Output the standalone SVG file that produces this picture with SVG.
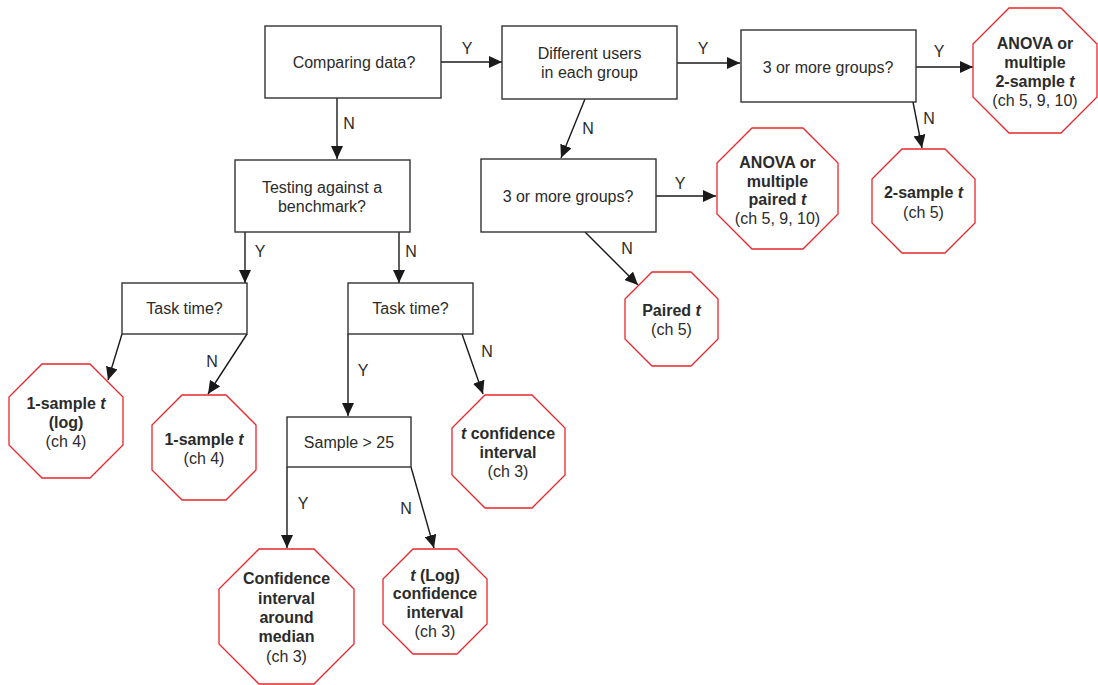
<svg xmlns="http://www.w3.org/2000/svg" width="1098" height="685" viewBox="0 0 1098 685">
<defs>
<marker id="arr" markerUnits="userSpaceOnUse" markerWidth="14" markerHeight="12" refX="13" refY="6" orient="auto">
<path d="M0,0 L13,6 L0,12 z" fill="#1a1a1a"/>
</marker>
<style>
.box{fill:#fff;stroke:#333;stroke-width:1.4}
.oct{fill:#fff;stroke:#e8262b;stroke-width:1.3}
.t{font-family:"Liberation Sans",Arial,sans-serif;font-size:16px;fill:#2b2b2b;text-anchor:middle}
.b{font-weight:bold}
.c{fill:none;stroke:#1a1a1a;stroke-width:1.4;marker-end:url(#arr)}
</style>
</defs>
<rect width="1098" height="685" fill="#fff"/>
<g id="connectors">
<path class="c" d="M441,62 H502"/>
<path class="c" d="M337,98 V159"/>
<path class="c" d="M677,63 H740"/>
<path class="c" d="M585,99 L561,158"/>
<path class="c" d="M916,67 H973"/>
<path class="c" d="M913,102 L922,148"/>
<path class="c" d="M656,196 H716"/>
<path class="c" d="M585,232 L638,285"/>
<path class="c" d="M245,232 V283"/>
<path class="c" d="M399,232 V283"/>
<path class="c" d="M122,334 L108,380"/>
<path class="c" d="M247,334 L208,394"/>
<path class="c" d="M348,334 V416"/>
<path class="c" d="M462,334 L483,394"/>
<path class="c" d="M287,467 V548"/>
<path class="c" d="M411,467 L434,548"/>
<g class="t">
<text x="467" y="54">Y</text>
<text x="349" y="129">N</text>
<text x="703" y="54">Y</text>
<text x="588" y="134">N</text>
<text x="939" y="57">Y</text>
<text x="929" y="124">N</text>
<text x="680" y="189">Y</text>
<text x="627" y="254">N</text>
<text x="260" y="257">Y</text>
<text x="411" y="257">N</text>
<text x="212" y="367">N</text>
<text x="363" y="376">Y</text>
<text x="487" y="357">N</text>
<text x="303" y="509">Y</text>
<text x="406" y="514">N</text>
</g>
</g>
<g id="comparing">
<rect class="box" x="265" y="26" width="176" height="72"/>
<text class="t" x="354" y="68">Comparing data?</text>
</g>
<g id="different-users">
<rect class="box" x="502" y="26" width="175" height="73"/>
<text class="t" x="589.5" y="59">Different users</text>
<text class="t" x="589.5" y="78">in each group</text>
</g>
<g id="groups-top">
<rect class="box" x="741" y="30" width="175" height="72"/>
<text class="t" x="828" y="73">3 or more groups?</text>
</g>
<g id="testing">
<rect class="box" x="235" y="160" width="175" height="72"/>
<text class="t" x="322" y="193">Testing against a</text>
<text class="t" x="322" y="212">benchmark?</text>
</g>
<g id="groups-mid">
<rect class="box" x="481" y="159" width="175" height="73"/>
<text class="t" x="568" y="202">3 or more groups?</text>
</g>
<g id="task-left">
<rect class="box" x="122" y="283" width="125" height="51"/>
<text class="t" x="184.5" y="314">Task time?</text>
</g>
<g id="task-right">
<rect class="box" x="348" y="283" width="125" height="51"/>
<text class="t" x="410.5" y="314">Task time?</text>
</g>
<g id="sample">
<rect class="box" x="287" y="417" width="124" height="50"/>
<text class="t" x="349" y="448">Sample &gt; 25</text>
</g>
<g id="anova-2sample">
<polygon class="oct" points="1009,8 1061,8 1097,44 1097,97 1061,133 1009,133 973,97 973,44"/>
<text class="t b" x="1035" y="49">ANOVA or</text>
<text class="t b" x="1035" y="68">multiple</text>
<text class="t b" x="1035" y="87">2-sample <tspan font-style="italic">t</tspan></text>
<text class="t" x="1035" y="106">(ch 5, 9, 10)</text>
</g>
<g id="anova-paired">
<polygon class="oct" points="752,128 803,128 838,163 838,214 803,249 752,249 717,214 717,163"/>
<text class="t b" x="777.5" y="168">ANOVA or</text>
<text class="t b" x="777.5" y="187">multiple</text>
<text class="t b" x="777.5" y="205">paired <tspan font-style="italic">t</tspan></text>
<text class="t" x="777.5" y="224">(ch 5, 9, 10)</text>
</g>
<g id="two-sample">
<polygon class="oct" points="902,149 945,149 975,179 975,223 945,253 902,253 872,223 872,179"/>
<text class="t b" x="923.5" y="198">2-sample <tspan font-style="italic">t</tspan></text>
<text class="t" x="923.5" y="218">(ch 5)</text>
</g>
<g id="paired-t">
<polygon class="oct" points="652,272 691,272 718,299 718,339 691,366 652,366 625,339 625,299"/>
<text class="t b" x="671.5" y="316">Paired <tspan font-style="italic">t</tspan></text>
<text class="t" x="671.5" y="335">(ch 5)</text>
</g>
<g id="one-sample-log">
<polygon class="oct" points="42,364 90,364 123,397 123,445 90,478 42,478 9,445 9,397"/>
<text class="t b" x="66" y="409">1-sample <tspan font-style="italic">t</tspan></text>
<text class="t b" x="66" y="428">(log)</text>
<text class="t" x="66" y="447">(ch 4)</text>
</g>
<g id="one-sample">
<polygon class="oct" points="182,395 226,395 256,425 256,470 226,500 182,500 152,470 152,425"/>
<text class="t b" x="204" y="445">1-sample <tspan font-style="italic">t</tspan></text>
<text class="t" x="204" y="464">(ch 4)</text>
</g>
<g id="t-confidence">
<polygon class="oct" points="485,395 532,395 565,428 565,475 532,508 485,508 452,475 452,428"/>
<text class="t b" x="508" y="439"><tspan font-style="italic">t</tspan> confidence</text>
<text class="t b" x="508" y="458">interval</text>
<text class="t" x="508" y="477">(ch 3)</text>
</g>
<g id="ci-median">
<polygon class="oct" points="259,549 314,549 354,589 354,644 314,684 259,684 219,644 219,589"/>
<text class="t b" x="286.5" y="584">Confidence</text>
<text class="t b" x="286.5" y="604">interval</text>
<text class="t b" x="286.5" y="623">around</text>
<text class="t b" x="286.5" y="642">median</text>
<text class="t" x="286.5" y="662">(ch 3)</text>
</g>
<g id="t-log-confidence">
<polygon class="oct" points="413,549 457,549 487,579 487,624 457,654 413,654 383,624 383,579"/>
<text class="t b" x="435" y="581"><tspan font-style="italic">t</tspan> (Log)</text>
<text class="t b" x="435" y="599">confidence</text>
<text class="t b" x="435" y="618">interval</text>
<text class="t" x="435" y="637">(ch 3)</text>
</g>
</svg>
